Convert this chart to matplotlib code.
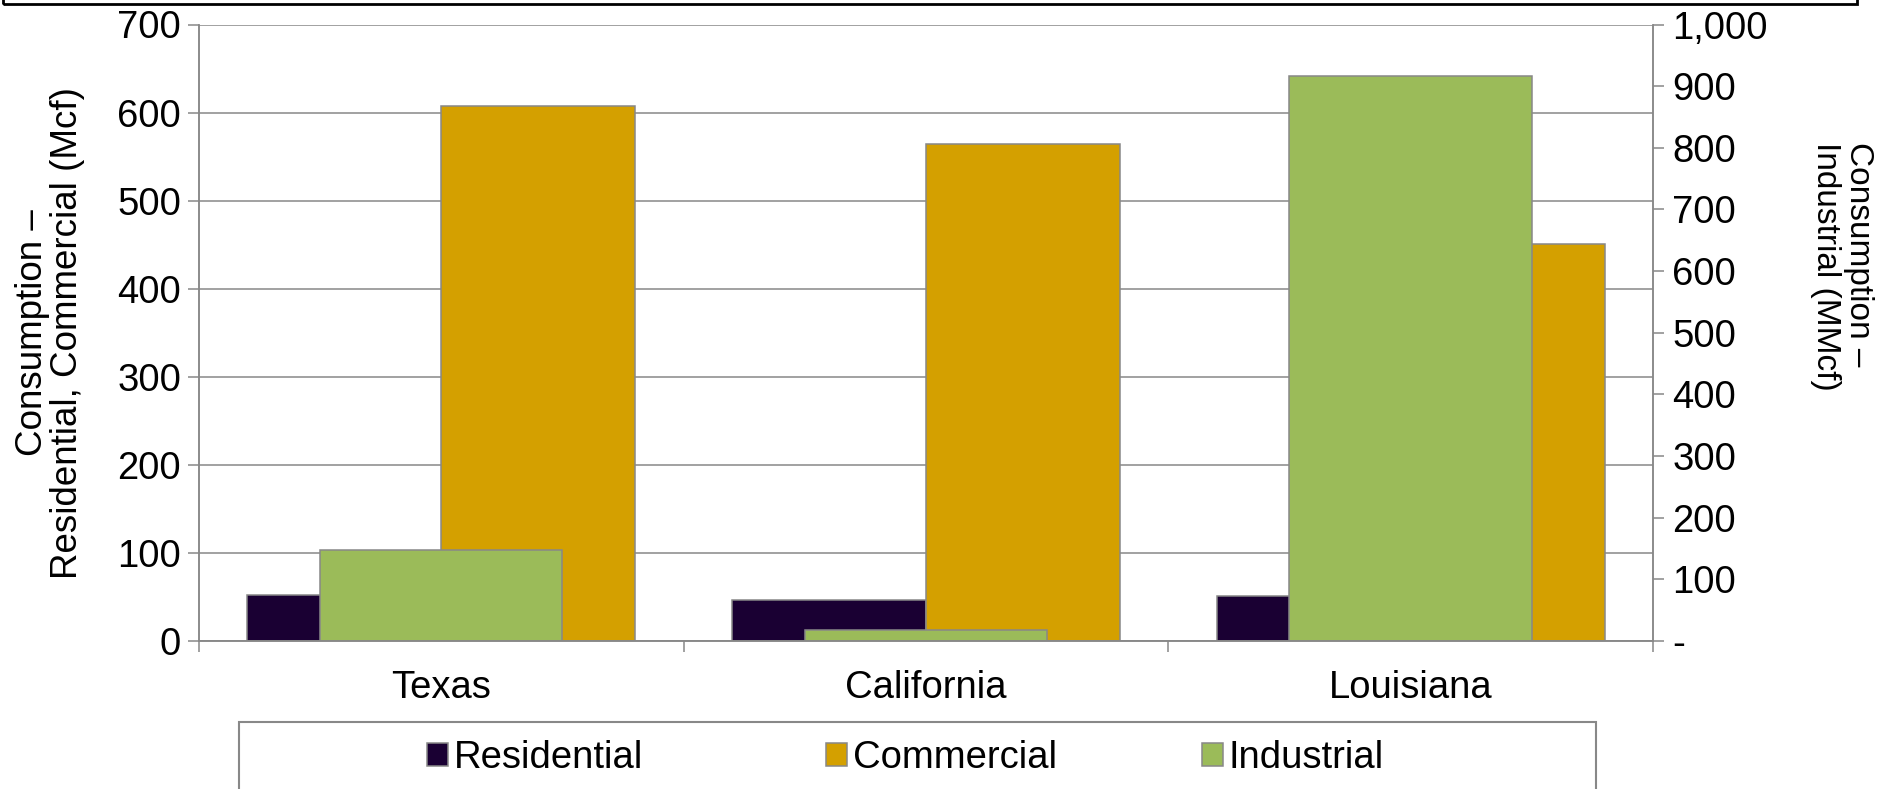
import matplotlib.pyplot as plt
import numpy as np
from matplotlib.patches import Rectangle
from matplotlib.ticker import FuncFormatter

plt.rcParams['font.family'] = ['Liberation Sans', 'DejaVu Sans']

states = ["Texas", "California", "Louisiana"]
residential = [52, 46, 51]        # Mcf
commercial = [607, 564, 451]      # Mcf
industrial = [148, 18, 916]       # MMcf

c_res = "#1a0033"
c_com = "#d4a000"
c_ind = "#9bbb59"
edge = "#888888"
fs = 27.5

W, H = 1881, 789
fig = plt.figure(figsize=(W / 100, H / 100), dpi=100)
ax = fig.add_axes([199 / W, 1 - 641 / H, (1653 - 199) / W, (641 - 24.5) / H])
ax2 = ax.twinx()

x = np.arange(len(states))
ax.bar(x - 0.2, residential, 0.4, color=c_res, edgecolor=edge, linewidth=1.1,
       label="Residential", zorder=2)
ax.bar(x + 0.2, commercial, 0.4, color=c_com, edgecolor=edge, linewidth=1.1,
       label="Commercial", zorder=2)
ax2.bar(x, industrial, 0.5, color=c_ind, edgecolor=edge, linewidth=1.1,
        label="Industrial", zorder=2)

ax.set_xlim(-0.5, 2.5)
ax.set_ylim(0, 700)
ax2.set_ylim(0, 1000)
ax.set_yticks(np.arange(0, 701, 100))
ax2.set_yticks(np.arange(0, 1001, 100))
ax2.yaxis.set_major_formatter(FuncFormatter(lambda v, p: "-" if v == 0 else f"{v:,.0f}"))

ax.yaxis.grid(True, color=edge, linewidth=1.1, zorder=0)
ax.set_axisbelow(True)

# category labels in the middle, tick marks on the group boundaries
ax.set_xticks(x)
ax.set_xticklabels(states)
ax.set_xticks(np.arange(-0.5, 2.6, 1), minor=True)
ax.tick_params(axis="x", which="major", length=0, pad=21, labelsize=fs)
ax.tick_params(axis="x", which="minor", length=8, width=1.1, color=edge)
ax.tick_params(axis="y", length=8, width=1.1, color=edge, pad=5, labelsize=fs)
ax2.tick_params(axis="y", length=8, width=1.1, color=edge, pad=6, labelsize=fs)

for a in (ax, ax2):
    a.spines["top"].set_visible(False)
    for s in ("left", "right", "bottom"):
        a.spines[s].set_color(edge)
        a.spines[s].set_linewidth(1.1)

fig.text(50 / W, 1 - 333 / H, "Consumption –\nResidential, Commercial (Mcf)",
         rotation=90, ha="center", va="center", fontsize=26.5, linespacing=1.0)
fig.text(1842 / W, 1 - 142 / H, "Consumption –\nIndustrial (MMcf)",
         rotation=-90, ha="center", va="top", multialignment="left",
         fontsize=24, linespacing=1.1)

# frame of the title block above and of the legend below
fig.add_artist(Rectangle((3 / W, 1 - 4 / H), (1857 - 3) / W, 0.2,
                         transform=fig.transFigure, fill=False,
                         edgecolor="black", linewidth=2, clip_on=False))
fig.add_artist(Rectangle((239 / W, -0.2), (1596 - 239) / W, 0.2 + 67 / H,
                         transform=fig.transFigure, fill=False,
                         edgecolor=edge, linewidth=1.5, clip_on=False))

# one legend entry per series, each placed at its own slot
handles = ax.get_legend_handles_labels()[0] + ax2.get_legend_handles_labels()[0]
labels = ["Residential", "Commercial", "Industrial"]
slots = [427, 826, 1202]
for h, lab, sx in zip(handles, labels, slots):
    fig.legend([h], [lab], loc="center left", bbox_to_anchor=(sx / W, 1 - 758 / H),
               frameon=False, fontsize=fs, handlelength=0.55, handleheight=0.55,
               handletextpad=0.15, borderpad=0, borderaxespad=0)

fig.savefig("out.png", dpi=100)
